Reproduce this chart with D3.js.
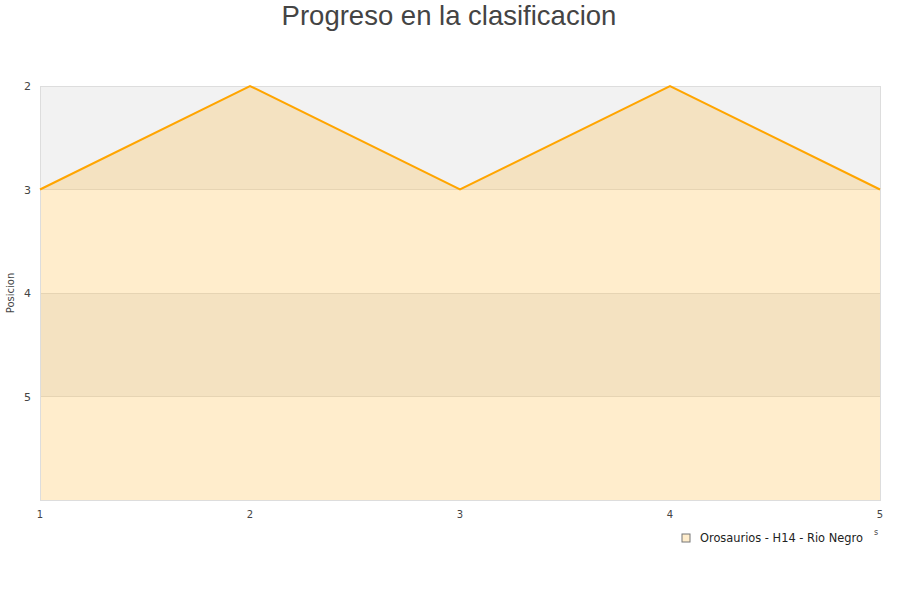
<!DOCTYPE html>
<html>
<head>
<meta charset="utf-8">
<script src="https://cdn.jsdelivr.net/npm/d3@7"></script>
<style>
  body { margin: 0; background: #fff; }
  svg { font-family: "DejaVu Sans", sans-serif; }
</style>
</head>
<body>
<svg id="chart" width="900" height="600"></svg>
<script>
// datos
const jornadas = [1, 2, 3, 4, 5];
const posiciones = [3, 2, 3, 2, 3];
const yTicks = [2, 3, 4, 5];
const serieNombre = "Orosaurios - H14 - Rio Negro";
const titulo = "Progreso en la clasificacion";

const svg = d3.select("#chart");
const margin = {top: 86, right: 20, bottom: 100, left: 40};
const width = 900, height = 600;

// escalas
const x = d3.scaleLinear().domain([1, 5])
  .range([margin.left, width - margin.right]);
const y = d3.scaleLinear().domain([2, 6])
  .range([margin.top, height - margin.bottom]);

// bandas de fondo
const bandas = [2, 3, 4, 5];
svg.append("g").selectAll("rect")
  .data(bandas)
  .join("rect")
  .attr("x", x(1))
  .attr("y", d => y(d))
  .attr("width", x(5) - x(1))
  .attr("height", d => y(d + 1) - y(d))
  .attr("fill", (d, i) => i % 2 === 0 ? "#f2f2f2" : "#ffffff");

// lineas de la grilla
svg.append("g").selectAll("line")
  .data([3, 4, 5])
  .join("line")
  .attr("x1", x(1)).attr("x2", x(5))
  .attr("y1", d => y(d)).attr("y2", d => y(d))
  .attr("stroke", "#e0e0e0").attr("stroke-width", 1)
  .style("shape-rendering", "crispEdges");

// area
const area = d3.area()
  .x((d, i) => x(jornadas[i]))
  .y0(y(6))
  .y1(d => y(d));
svg.append("path")
  .datum(posiciones)
  .attr("d", area)
  .attr("fill", "#ffa500")
  .attr("fill-opacity", 0.2);

// borde
svg.append("rect")
  .attr("x", x(1) + 0.5).attr("y", y(2) + 0.5)
  .attr("width", x(5) - x(1)).attr("height", y(6) - y(2))
  .attr("fill", "none").attr("stroke", "#dddddd");

// linea
const line = d3.line()
  .x((d, i) => x(jornadas[i]))
  .y(d => y(d));
svg.append("path")
  .datum(posiciones)
  .attr("d", line)
  .attr("fill", "none")
  .attr("stroke", "#ffa500")
  .attr("stroke-width", 2);

// ejes
svg.append("g").selectAll("text")
  .data(yTicks)
  .join("text")
  .attr("x", 31).attr("y", d => y(d) + 4)
  .attr("text-anchor", "end")
  .attr("font-size", 11).attr("fill", "#444")
  .text(d => d);

svg.append("g").selectAll("text")
  .data(jornadas)
  .join("text")
  .attr("x", d => x(d)).attr("y", 518)
  .attr("text-anchor", "middle")
  .attr("font-size", 10).attr("fill", "#444")
  .text(d => d);

svg.append("text")
  .attr("transform", `translate(14,${(y(2) + y(6)) / 2}) rotate(-90)`)
  .attr("text-anchor", "middle")
  .attr("font-size", 10).attr("fill", "#444")
  .text("Posicion");

// titulo
svg.append("text")
  .attr("x", width / 2 - 1).attr("y", 25)
  .attr("text-anchor", "middle")
  .attr("font-family", "'Liberation Sans', Arial, sans-serif")
  .attr("font-size", 27.5).attr("fill", "#444")
  .text(titulo);

// leyenda
const leg = svg.append("g").attr("transform", "translate(682,534)");
leg.append("rect")
  .attr("width", 8).attr("height", 8)
  .attr("fill", "#ffedcc").attr("stroke", "#777");
leg.append("text")
  .attr("x", 18).attr("y", 8)
  .attr("font-size", 11.4).attr("fill", "#222")
  .text(serieNombre);
svg.append("text")
  .attr("x", 876).attr("y", 535)
  .attr("text-anchor", "middle")
  .attr("font-size", 8).attr("fill", "#444")
  .text("s");
</script>
</body>
</html>
